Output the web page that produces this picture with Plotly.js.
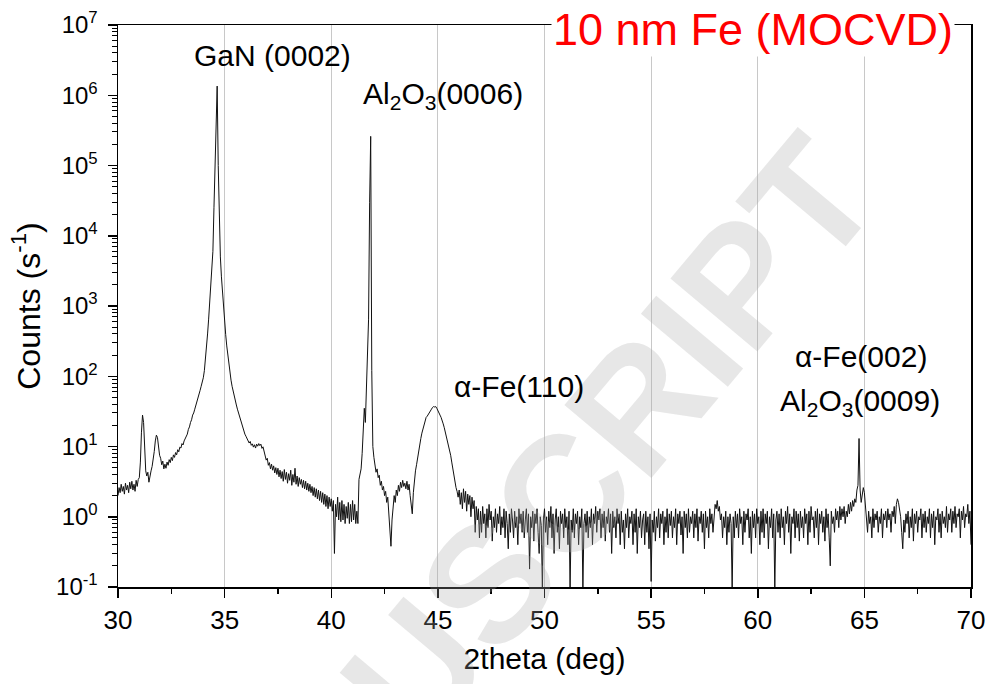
<!DOCTYPE html>
<html>
<head>
<meta charset="utf-8">
<script src="https://cdn.plot.ly/plotly-3.0.1.min.js"></script>
<style>html,body{margin:0;padding:0;background:#fff;}#chart{width:991px;height:684px;}</style>
</head>
<body>
<div id="chart"></div>
<script>
// Scan grid: 2theta from 30 to 70 deg, 0.05 deg per point
const scanStart = 30;
const scanStep = 0.05;

// Counts (s^-1), one row per degree (20 points each)
const counts30 = [2.0, 2.6, 2.2, 2.9, 2.3, 2.7, 2.1, 3.0, 2.4, 2.8, 2.2, 3.1, 2.5, 3.2, 2.4, 2.9, 2.3, 3.3, 2.7, 3.4];
const counts31 = [3.6, 6, 16, 28, 22, 9, 4.5, 3.8, 4.3, 3.1, 3.9, 4.5, 5.2, 6.5, 8.5, 12, 14.5, 13.5, 10, 7.5];
const counts32 = [6.8, 5.5, 6.2, 4.8, 5.6, 4.9, 6.0, 5.4, 6.5, 5.9, 7.0, 6.3, 7.6, 7.0, 8.2, 7.6, 9.0, 8.4, 9.8, 9.5];
const counts33 = [11, 10.5, 12, 13, 14.5, 15, 17.5, 19, 22, 24, 28, 30, 34, 38, 43, 49, 56, 63, 72, 82];
const counts34 = [95, 120, 170, 250, 400, 650, 1100, 1900, 3000, 6000, 25000, 120000, 700000, 1350000, 100000, 20000, 5000, 2600, 1500, 900];
const counts35 = [560, 390, 270, 195, 145, 110, 88, 72, 60, 50, 44, 39, 34, 30, 26, 23, 20.5, 18.5, 16.5, 15];
const counts36 = [14, 12.8, 12.0, 11.2, 11.8, 10.4, 10.9, 9.8, 10.6, 9.5, 10.8, 10.1, 11.0, 10.3, 10.8, 9.4, 9.9, 8.3, 7.6, 6.4];
const counts37 = [6.8, 5.4, 5.9, 4.8, 5.6, 4.6, 5.3, 4.2, 5.0, 4.0, 4.9, 3.7, 4.6, 3.5, 4.4, 3.2, 4.7, 3.4, 4.3, 3.0];
const counts38 = [4.1, 3.3, 4.6, 2.8, 4.0, 3.1, 4.9, 2.9, 3.8, 2.7, 3.6, 2.9, 3.4, 2.6, 3.3, 2.5, 3.2, 2.4, 3.0, 2.3];
const counts39 = [2.9, 2.2, 2.7, 2.0, 2.6, 1.9, 2.5, 1.8, 2.4, 1.7, 2.3, 1.6, 2.2, 1.5, 2.1, 1.4, 2.0, 1.3, 1.9, 1.4];
const counts40 = [1.8, 1.2, 1.7, 0.3, 1.5, 1.0, 1.9, 0.9, 1.6, 0.85, 1.7, 0.9, 1.5, 0.8, 1.4, 0.95, 1.6, 0.8, 1.5, 0.85];
const counts41 = [1.7, 0.9, 1.5, 0.8, 1.2, 0.8, 3.4, 4.2, 4.8, 8, 14, 35, 22, 80, 300, 650, 30000, 260000, 120, 10];
const counts42 = [7, 5.5, 4.3, 4.8, 3.6, 3.9, 2.8, 3.2, 2.4, 2.7, 2.0, 2.3, 1.6, 1.9, 1.2, 0.6, 0.38, 0.9, 1.4, 2.0];
const counts43 = [1.6, 2.4, 2.0, 2.8, 2.3, 3.1, 2.6, 3.3, 2.7, 3.0, 2.5, 3.2, 2.4, 2.9, 2.0, 1.6, 1.1, 2.2, 3.5, 4.5];
const counts44 = [5.5, 7, 9, 11, 13, 15.5, 18, 21, 24, 26, 27, 29, 31, 32.5, 34, 36, 37, 36.5, 37, 35];
const counts45 = [33, 31, 28, 26, 24, 21, 18.5, 16, 14, 12, 10.5, 9, 7.5, 6, 4.8, 3.8, 3.2, 2.6, 2.3, 1.9];
const counts46 = [2.4, 1.5, 2.2, 1.3, 2.5, 1.6, 2.3, 1.2, 2.1, 1.5, 2.0, 1.0, 1.9, 1.3, 1.7, 0.6, 1.4, 0.9, 1.3, 0.5];
const counts47 = [1.2, 0.6, 1.4, 0.8, 1.1, 0.5, 1.3, 0.7, 1.5, 0.9, 1.2, 0.45, 1.0, 0.7, 1.3, 0.6, 1.1, 0.8, 1.4, 0.55];
const counts48 = [1.0, 0.7, 1.3, 0.5, 1.2, 0.8, 0.35, 1.1, 0.6, 1.3, 0.9, 0.5, 1.2, 0.7, 1.0, 0.4, 1.3, 0.8, 1.1, 0.6];
const counts49 = [1.2, 0.5, 0.9, 1.3, 0.6, 1.1, 0.18, 1.0, 0.7, 1.2, 0.45, 1.1, 0.8, 1.3, 0.6, 0.3, 1.0, 0.75, 0.09, 0.9];
const counts50 = [1.3, 0.6, 1.0, 0.4, 1.2, 0.7, 1.4, 0.5, 1.1, 0.3, 0.9, 1.3, 0.6, 1.0, 0.35, 1.2, 0.8, 1.1, 0.5, 1.3];
const counts51 = [0.7, 1.0, 0.4, 1.2, 0.09, 0.9, 0.6, 1.3, 0.5, 1.1, 0.8, 1.2, 0.4, 1.0, 0.7, 1.3, 0.09, 0.8, 1.1, 0.6];
const counts52 = [1.2, 0.5, 1.0, 0.7, 1.3, 0.4, 1.1, 0.8, 1.4, 0.6, 1.2, 0.9, 1.3, 0.5, 1.1, 0.7, 1.2, 0.45, 1.0, 0.8];
const counts53 = [1.3, 0.6, 1.1, 0.3, 1.2, 0.7, 1.0, 0.5, 1.3, 0.8, 1.1, 0.4, 1.2, 0.6, 0.9, 0.35, 1.1, 0.7, 1.3, 0.5];
const counts54 = [1.0, 0.8, 1.2, 0.4, 1.1, 0.6, 1.3, 0.3, 1.0, 0.7, 1.2, 0.5, 0.9, 1.1, 0.4, 1.2, 0.6, 1.0, 0.35, 1.1];
const counts55 = [0.12, 0.9, 0.6, 1.2, 0.45, 1.0, 0.7, 1.3, 0.5, 1.1, 0.8, 1.2, 0.4, 1.0, 0.6, 1.3, 0.5, 1.1, 0.75, 1.2];
const counts56 = [0.5, 1.0, 0.7, 1.3, 0.4, 1.1, 0.8, 1.2, 0.55, 1.0, 0.3, 1.2, 0.7, 1.1, 0.5, 1.3, 0.6, 1.0, 0.8, 1.2];
const counts57 = [0.5, 1.1, 0.7, 1.3, 0.45, 1.0, 0.8, 1.2, 0.6, 1.1, 0.35, 1.2, 0.7, 1.0, 0.5, 1.3, 0.8, 1.1, 0.6, 1.2];
const counts58 = [1.5, 1.3, 1.7, 1.2, 1.4, 0.9, 1.1, 0.5, 1.0, 0.7, 1.2, 0.4, 1.0, 0.6, 1.1, 0.8, 0.09, 1.0, 0.5, 1.2];
const counts59 = [0.7, 1.1, 0.5, 1.3, 0.8, 1.0, 0.4, 1.2, 0.6, 1.1, 0.9, 1.3, 0.5, 1.0, 0.3, 1.2, 0.7, 1.1, 0.5, 1.3];
const counts60 = [0.8, 1.0, 0.4, 1.2, 0.6, 1.3, 0.5, 1.1, 0.8, 1.2, 0.35, 1.0, 0.7, 1.3, 0.5, 1.1, 0.09, 0.9, 1.2, 0.6];
const counts61 = [1.1, 0.5, 1.3, 0.7, 1.0, 0.4, 1.2, 0.8, 1.4, 0.6, 1.1, 0.3, 1.0, 0.8, 1.3, 0.5, 1.2, 0.7, 1.1, 0.45];
const counts62 = [1.2, 0.7, 1.0, 0.5, 1.3, 0.8, 1.1, 0.4, 1.2, 0.6, 1.4, 0.9, 1.0, 0.5, 1.2, 0.7, 1.3, 0.4, 1.1, 0.8];
const counts63 = [1.2, 0.6, 1.0, 0.45, 1.3, 0.7, 1.1, 0.5, 0.2, 1.2, 0.8, 1.0, 0.6, 1.3, 0.9, 1.2, 0.7, 1.4, 0.9, 1.3];
const counts64 = [1.0, 1.4, 0.8, 1.2, 1.0, 1.5, 1.1, 1.6, 1.2, 1.7, 1.4, 1.8, 1.6, 2.4, 2.8, 13, 2.4, 1.6, 2.0, 2.6];
const counts65 = [2.2, 1.5, 1.1, 0.6, 1.2, 0.8, 1.0, 0.5, 1.3, 0.7, 1.1, 0.9, 1.2, 0.6, 1.0, 0.8, 1.3, 0.5, 1.1, 0.9];
const counts66 = [1.2, 0.7, 1.3, 0.9, 1.1, 0.6, 1.2, 1.0, 1.4, 0.8, 1.5, 1.8, 1.6, 1.3, 1.0, 0.6, 0.35, 0.9, 0.6, 1.1];
const counts67 = [0.8, 1.2, 0.5, 1.0, 0.7, 1.3, 0.45, 1.1, 0.8, 1.2, 0.6, 1.0, 0.9, 1.3, 0.5, 1.1, 0.7, 1.2, 0.6, 1.0];
const counts68 = [0.8, 1.3, 0.5, 1.1, 0.7, 1.2, 0.4, 1.0, 0.9, 1.3, 0.6, 1.1, 0.5, 1.2, 0.8, 1.0, 0.7, 1.4, 0.6, 1.1];
const counts69 = [0.9, 1.3, 0.6, 1.2, 0.8, 1.4, 0.7, 1.1, 1.0, 1.3, 0.5, 1.2, 0.9, 1.4, 0.7, 1.1, 1.0, 1.5, 0.8, 1.2];
const counts70 = [0.4];

// Axis tick labels
const xTickVals = [30, 35, 40, 45, 50, 55, 60, 65, 70];
const yDecades = [0.1, 1, 10, 100, 1000, 10000, 100000, 1000000, 10000000];
const yTickText = ['10<sup>-1</sup>', '10<sup>0</sup>', '10<sup>1</sup>', '10<sup>2</sup>', '10<sup>3</sup>', '10<sup>4</sup>', '10<sup>5</sup>', '10<sup>6</sup>', '10<sup>7</sup>'];

// Labels
const titleText = '10 nm Fe (MOCVD)';
const xTitle = '2theta (deg)';
const yTitle = 'Counts (s<sup>-1</sup>)';
const peakLabels = ['GaN (0002)', 'Al<sub>2</sub>O<sub>3</sub>(0006)', '\u03b1-Fe(110)', '\u03b1-Fe(002)', 'Al<sub>2</sub>O<sub>3</sub>(0009)'];
const peakLabelX = [37.25, 45.23, 48.79, 64.84, 64.8];
const peakLabelY = [6.56, 5.99, 1.85, 2.28, 1.63];

const counts = [].concat(counts30, counts31, counts32, counts33, counts34, counts35, counts36, counts37, counts38, counts39,
  counts40, counts41, counts42, counts43, counts44, counts45, counts46, counts47, counts48, counts49,
  counts50, counts51, counts52, counts53, counts54, counts55, counts56, counts57, counts58, counts59,
  counts60, counts61, counts62, counts63, counts64, counts65, counts66, counts67, counts68, counts69, counts70);
const twoTheta = counts.map((_, i) => +(scanStart + i * scanStep).toFixed(2));

const minorVals = [];
yDecades.slice(0, -1).forEach(d => { for (let m = 2; m <= 9; m++) minorVals.push(d * m); });

const FONT = 'Arial, "Liberation Sans", sans-serif';

const trace = {
  x: twoTheta, y: counts, type: 'scatter', mode: 'lines',
  line: {color: '#111', width: 1}, hoverinfo: 'skip', showlegend: false
};

const annotations = peakLabels.map((t, i) => ({
  text: t, x: peakLabelX[i], y: peakLabelY[i], xref: 'x', yref: 'y',
  showarrow: false, font: {family: FONT, size: 30, color: '#000'}
}));
annotations.push({
  text: titleText, x: 59.8, y: 6.93, xref: 'x', yref: 'y', showarrow: false,
  font: {family: FONT, size: 45, color: '#ff0000'}, bgcolor: '#ffffff', borderpad: 1
});
annotations.unshift({
  text: '<b>MANUSCRIPT</b>', x: 47.4, y: -0.95, xref: 'x', yref: 'y', showarrow: false,
  textangle: -50, font: {family: FONT, size: 165, color: 'rgba(170,170,170,0.28)'}
});

const layout = {
  width: 991, height: 684,
  margin: {l: 118, r: 20, t: 25, b: 97},
  paper_bgcolor: '#fff', plot_bgcolor: '#fff',
  font: {family: FONT, color: '#000'},
  showlegend: false,
  xaxis: {
    range: [30, 70], tickmode: 'array', tickvals: xTickVals,
    ticks: 'outside', ticklen: 9, tickwidth: 1.5, tickcolor: '#000',
    showline: true, linecolor: '#000', linewidth: 1.5, mirror: true,
    showgrid: true, gridcolor: '#c8c8c8', gridwidth: 1, zeroline: false,
    minor: {dtick: 2.5, tick0: 30, ticks: 'outside', ticklen: 5, tickwidth: 1.5, tickcolor: '#000', showgrid: false},
    tickfont: {family: FONT, size: 26, color: '#000'},
    title: {text: xTitle, font: {family: FONT, size: 30, color: '#000'}, standoff: 14}
  },
  yaxis: {
    type: 'log', range: [-1, 7], tickmode: 'array', tickvals: yDecades, ticktext: yTickText,
    ticks: 'outside', ticklen: 9, tickwidth: 1.5, tickcolor: '#000',
    showline: true, linecolor: '#000', linewidth: 1.5, mirror: true,
    showgrid: false, zeroline: false, ticklabelstandoff: 5,
    minor: {tickmode: 'array', tickvals: minorVals, ticks: 'outside', ticklen: 5, tickwidth: 1, tickcolor: '#000', showgrid: false},
    tickfont: {family: FONT, size: 24, color: '#000'},
    title: {text: yTitle, font: {family: FONT, size: 32, color: '#000'}, standoff: 6}
  },
  annotations: annotations
};

Plotly.newPlot('chart', [trace], layout, {staticPlot: true, displayModeBar: false});
</script>
</body>
</html>
